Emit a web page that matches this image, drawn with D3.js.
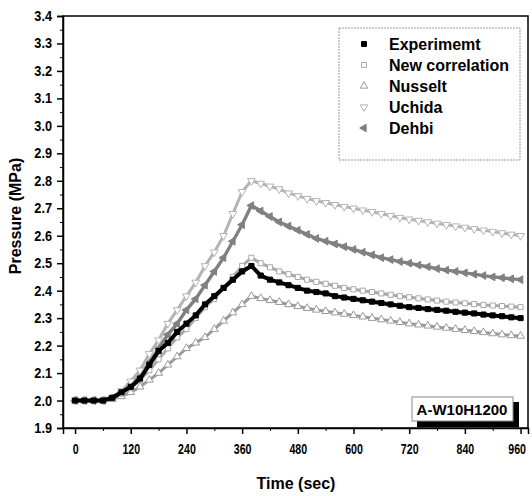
<!DOCTYPE html>
<html>
<head>
<meta charset="utf-8">
<script src="https://d3js.org/d3.v7.min.js"></script>
<style>
  body { margin: 0; background: #fff; }
  text { font-family: Arial, "Liberation Sans", sans-serif; font-weight: bold; }
  .tick text { font-family: Arial, "Liberation Sans", sans-serif; font-size: 14px; font-weight: bold; }
</style>
</head>
<body>
<svg id="chart" width="532" height="496"></svg>
<script>
// time axis, every 20 s
var times = d3.range(0, 961, 20);

var experiment = [2.00,2.00,2.00,2.00,2.01,2.03,2.05,2.08,2.13,2.18,2.21,2.25,2.28,2.31,2.35,2.38,2.41,2.44,2.47,2.49,
  2.455,2.44,2.43,2.42,2.41,2.40,2.395,2.39,2.38,2.375,2.37,2.365,2.36,2.355,2.35,2.345,2.34,2.337,2.333,2.33,
  2.327,2.323,2.32,2.317,2.313,2.31,2.307,2.303,2.30];
var newCorr = [2.00,2.00,2.00,2.00,2.01,2.025,2.045,2.075,2.11,2.15,2.19,2.23,2.26,2.30,2.34,2.37,2.41,2.45,2.49,2.52,
  2.50,2.485,2.47,2.46,2.45,2.44,2.432,2.425,2.418,2.41,2.405,2.40,2.395,2.39,2.385,2.38,2.376,2.372,2.368,2.364,
  2.36,2.357,2.354,2.351,2.348,2.346,2.344,2.342,2.34];
var nusselt = [2.00,2.00,2.00,2.00,2.005,2.015,2.03,2.05,2.075,2.10,2.13,2.16,2.19,2.21,2.23,2.26,2.29,2.32,2.35,2.38,
  2.372,2.365,2.358,2.35,2.343,2.336,2.33,2.325,2.32,2.315,2.31,2.305,2.30,2.295,2.29,2.285,2.28,2.276,2.272,2.268,
  2.264,2.26,2.256,2.252,2.248,2.244,2.24,2.237,2.235];
var uchida = [2.00,2.00,2.00,2.00,2.01,2.035,2.07,2.11,2.17,2.22,2.28,2.33,2.38,2.43,2.49,2.54,2.60,2.68,2.76,2.80,
  2.79,2.78,2.77,2.755,2.745,2.735,2.727,2.72,2.713,2.706,2.70,2.693,2.687,2.68,2.673,2.666,2.66,2.655,2.65,2.645,
  2.64,2.635,2.63,2.625,2.62,2.615,2.61,2.605,2.60];
var dehbi = [2.00,2.00,2.00,2.00,2.01,2.03,2.06,2.09,2.14,2.19,2.24,2.28,2.33,2.37,2.42,2.47,2.52,2.58,2.64,2.71,
  2.69,2.67,2.65,2.635,2.62,2.605,2.59,2.58,2.57,2.56,2.55,2.54,2.53,2.52,2.513,2.506,2.50,2.493,2.487,2.48,
  2.475,2.47,2.465,2.46,2.455,2.45,2.447,2.443,2.44];

var seriesNames = ["Experimemt", "New correlation", "Nusselt", "Uchida", "Dehbi"];
var xTicks = [0, 120, 240, 360, 480, 600, 720, 840, 960];
var yTicks = [1.9, 2.0, 2.1, 2.2, 2.3, 2.4, 2.5, 2.6, 2.7, 2.8, 2.9, 3.0, 3.1, 3.2, 3.3, 3.4];

var series = [
  {name: seriesNames[0], values: experiment, color: "#000", width: 4, symbol: d3.symbolSquare, rot: 0, fill: true},
  {name: seriesNames[1], values: newCorr, color: "#a8a8a8", width: 3, symbol: d3.symbolSquare, rot: 0, fill: false},
  {name: seriesNames[2], values: nusselt, color: "#9a9a9a", width: 3, symbol: d3.symbolTriangle, rot: 0, fill: false},
  {name: seriesNames[3], values: uchida, color: "#b4b4b4", width: 3, symbol: d3.symbolTriangle, rot: 180, fill: false},
  {name: seriesNames[4], values: dehbi, color: "#808080", width: 3.4, symbol: d3.symbolTriangle, rot: -90, fill: true}
];

var svg = d3.select("#chart");
var x = d3.scaleLinear().domain([-26, 976]).range([63, 528]);
var y = d3.scaleLinear().domain([1.9, 3.4]).range([428, 16]);

// frame
svg.append("rect").attr("x", 63).attr("y", 16).attr("width", 465).attr("height", 412)
  .attr("fill", "none").attr("stroke", "#000").attr("stroke-width", 1.5);

// minor ticks
svg.append("g").attr("transform", "translate(0,428)")
  .call(d3.axisBottom(x).tickValues(d3.range(60, 961, 120)).tickSize(3).tickFormat(""))
  .call(function(g) { g.select(".domain").remove(); });
svg.append("g").attr("transform", "translate(63,0)")
  .call(d3.axisLeft(y).tickValues(d3.range(1.95, 3.4, 0.1)).tickSize(3).tickFormat(""))
  .call(function(g) { g.select(".domain").remove(); });

// major axes
var xa = svg.append("g").attr("transform", "translate(0,428)")
  .call(d3.axisBottom(x).tickValues(xTicks).tickSize(6).tickPadding(10));
var ya = svg.append("g").attr("transform", "translate(63,0)")
  .call(d3.axisLeft(y).tickValues(yTicks).tickSize(6).tickPadding(5).tickFormat(d3.format(".1f")));
[xa, ya].forEach(function(g) {
  g.select(".domain").attr("stroke-width", 1.5);
  g.selectAll("line").attr("stroke-width", 1.5);
  // condensed look of the original tick font
  g.selectAll(".tick text")
    .attr("textLength", function() { return this.textContent.length * 5.9; })
    .attr("lengthAdjust", "spacingAndGlyphs");
});
xa.selectAll(".tick text").filter(function(d) { return d === 960; }).attr("dx", -4);

// axis titles
svg.append("text").attr("x", 296).attr("y", 489).attr("text-anchor", "middle")
  .style("font-size", "16px").text("Time (sec)");
svg.append("text").attr("transform", "translate(21,216) rotate(-90)").attr("text-anchor", "middle")
  .style("font-size", "16px").text("Pressure (MPa)");

// curves
var line = d3.line().x(function(d, i) { return x(times[i]); }).y(function(d) { return y(d); });
var plot = svg.append("g");
series.slice().reverse().forEach(function(s) {
  plot.append("path").datum(s.values).attr("d", line)
    .attr("fill", "none").attr("stroke", s.color).attr("stroke-width", s.width);
  plot.selectAll(null).data(s.values).enter().append("path")
    .attr("d", d3.symbol().type(s.symbol).size(26))
    .attr("transform", function(d, i) { return "translate(" + x(times[i]) + "," + y(d) + ") rotate(" + s.rot + ")"; })
    .attr("fill", s.fill ? s.color : "#fff").attr("stroke", s.color).attr("stroke-width", 1);
});

// legend
var lg = svg.append("g");
lg.append("rect").attr("x", 339).attr("y", 28).attr("width", 181).attr("height", 132)
  .attr("fill", "#fff").attr("stroke", "#999").attr("stroke-width", 1).attr("stroke-dasharray", "2,1");
series.forEach(function(s, i) {
  var yy = 44 + i * 21;
  lg.append("path").attr("d", d3.symbol().type(s.symbol).size(24))
    .attr("transform", "translate(364," + yy + ") rotate(" + s.rot + ")")
    .attr("fill", s.fill ? s.color : "#fff").attr("stroke", s.color);
  lg.append("text").attr("x", 389).attr("y", yy + 6).style("font-size", "16px").text(s.name);
});

// case label with shadow
svg.append("rect").attr("x", 417).attr("y", 402).attr("width", 102).attr("height", 25).attr("fill", "#000");
svg.append("rect").attr("x", 412).attr("y", 397).attr("width", 101).attr("height", 24)
  .attr("fill", "#fff").attr("stroke", "#888").attr("stroke-width", 1);
svg.append("text").attr("x", 462).attr("y", 415).attr("text-anchor", "middle")
  .style("font-size", "15px").text("A-W10H1200");
</script>
</body>
</html>
